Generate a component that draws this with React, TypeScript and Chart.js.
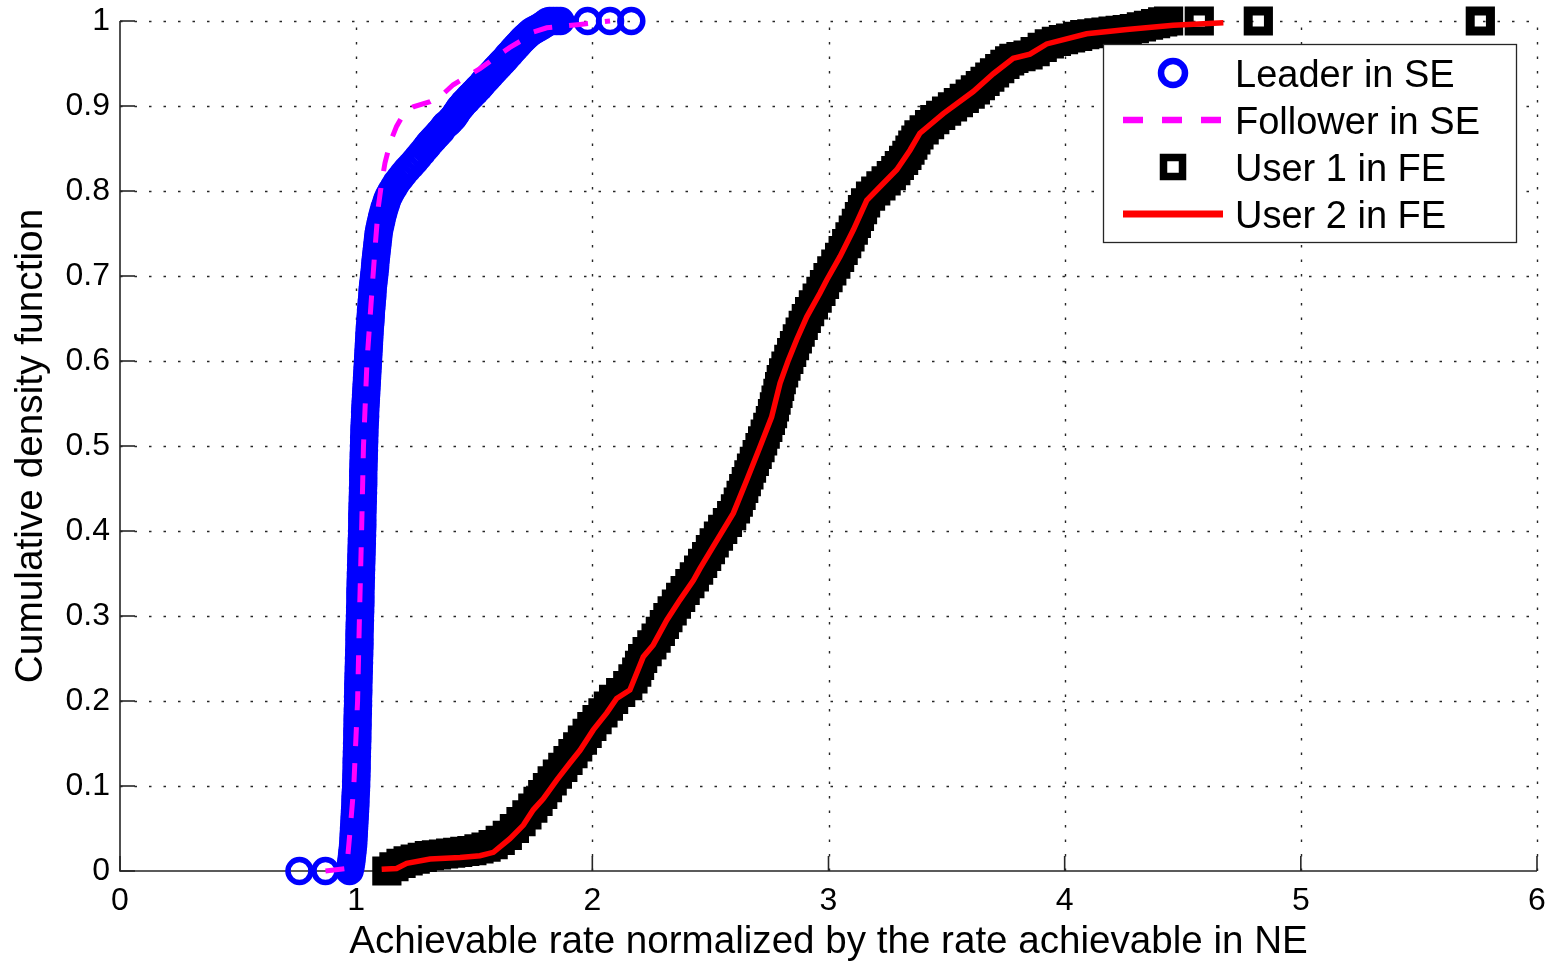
import React, { useEffect, useRef } from 'react';
import { Chart, registerables } from 'chart.js';

Chart.register(...registerables);

const FONT = "'Liberation Sans', Arial, Helvetica, sans-serif";

const xTickValues = [0, 1, 2, 3, 4, 5, 6];
const xTickLabels = ['0', '1', '2', '3', '4', '5', '6'];
const yTickValues = [0, 0.1, 0.2, 0.3, 0.4, 0.5, 0.6, 0.7, 0.8, 0.9, 1];
const yTickLabels = ['0', '0.1', '0.2', '0.3', '0.4', '0.5', '0.6', '0.7', '0.8', '0.9', '1'];

const seriesLabels = ['Leader in SE', 'Follower in SE', 'User 1 in FE', 'User 2 in FE'];
const xTitle = 'Achievable rate normalized by the rate achievable in NE';
const yTitle = 'Cumulative density function';

const leaderX = [
  0.76, 0.87,
  0.972, 0.976, 0.979, 0.981, 0.983, 0.985, 0.987, 0.988, 0.989, 0.99, 0.991, 0.992, 0.993, 0.994, 0.995, 0.996, 0.997, 0.997, 0.998, 0.999,
  1.0, 1.0, 1.001, 1.001, 1.002, 1.002, 1.002, 1.003, 1.003, 1.004, 1.004, 1.005, 1.005, 1.005, 1.006, 1.006, 1.006, 1.007, 1.007, 1.008,
  1.008, 1.008, 1.009, 1.009, 1.009, 1.01, 1.01, 1.011, 1.011, 1.012, 1.012, 1.013, 1.013, 1.014, 1.014, 1.014, 1.014, 1.015, 1.015, 1.016,
  1.016, 1.017, 1.017, 1.018, 1.018, 1.018, 1.018, 1.019, 1.019, 1.02, 1.02, 1.021, 1.021, 1.022, 1.022, 1.023, 1.023, 1.024, 1.024, 1.025,
  1.025, 1.026, 1.026, 1.026, 1.026, 1.027, 1.027, 1.028, 1.028, 1.029, 1.029, 1.03, 1.03, 1.03, 1.03, 1.031, 1.031, 1.032, 1.032, 1.033,
  1.033, 1.034, 1.034, 1.035, 1.035, 1.036, 1.037, 1.038, 1.038, 1.039, 1.04, 1.041, 1.042, 1.043, 1.044, 1.045, 1.046, 1.047, 1.048, 1.049,
  1.05, 1.051, 1.052, 1.053, 1.054, 1.055, 1.056, 1.057, 1.058, 1.06, 1.061, 1.062, 1.063, 1.065, 1.066, 1.068, 1.069, 1.07, 1.072, 1.074,
  1.076, 1.078, 1.08, 1.081, 1.083, 1.085, 1.087, 1.089, 1.091, 1.093, 1.095,
  1.098, 1.102, 1.106, 1.11, 1.115, 1.12, 1.126, 1.132, 1.14, 1.15, 1.161, 1.172, 1.186, 1.2, 1.215, 1.232, 1.248, 1.263, 1.278, 1.293,
  1.302, 1.31, 1.32, 1.33, 1.34, 1.35, 1.36, 1.37, 1.38, 1.39, 1.4, 1.41, 1.418, 1.425, 1.432, 1.44, 1.447, 1.455, 1.462, 1.47,
  1.478, 1.487, 1.496, 1.505, 1.513, 1.522, 1.531, 1.54, 1.55, 1.56, 1.57, 1.58, 1.59, 1.6, 1.61, 1.62, 1.631, 1.642, 1.653, 1.665,
  1.675, 1.685, 1.695, 1.705, 1.716, 1.728, 1.74, 1.752, 1.765, 1.778, 1.79, 1.8, 1.81, 1.82, 1.835, 1.85, 1.865,
  1.98, 2.075, 2.165,
];
const leaderY = [
  0, 0,
  0, 0.005, 0.01, 0.015, 0.02, 0.025, 0.03, 0.035, 0.04, 0.045, 0.05, 0.055, 0.06, 0.065, 0.07, 0.075, 0.08, 0.085, 0.09, 0.095,
  0.1, 0.105, 0.11, 0.115, 0.12, 0.125, 0.13, 0.135, 0.14, 0.145, 0.15, 0.155, 0.16, 0.165, 0.17, 0.175, 0.18, 0.185, 0.19, 0.195,
  0.2, 0.205, 0.21, 0.215, 0.22, 0.225, 0.23, 0.235, 0.24, 0.245, 0.25, 0.255, 0.26, 0.265, 0.27, 0.275, 0.28, 0.285, 0.29, 0.295,
  0.3, 0.305, 0.31, 0.315, 0.32, 0.325, 0.33, 0.335, 0.34, 0.345, 0.35, 0.355, 0.36, 0.365, 0.37, 0.375, 0.38, 0.385, 0.39, 0.395,
  0.4, 0.405, 0.41, 0.415, 0.42, 0.425, 0.43, 0.435, 0.44, 0.445, 0.45, 0.455, 0.46, 0.465, 0.47, 0.475, 0.48, 0.485, 0.49, 0.495,
  0.5, 0.505, 0.51, 0.515, 0.52, 0.525, 0.53, 0.535, 0.54, 0.545, 0.55, 0.555, 0.56, 0.565, 0.57, 0.575, 0.58, 0.585, 0.59, 0.595,
  0.6, 0.605, 0.61, 0.615, 0.62, 0.625, 0.63, 0.635, 0.64, 0.645, 0.65, 0.655, 0.66, 0.665, 0.67, 0.675, 0.68, 0.685, 0.69, 0.695,
  0.7, 0.705, 0.71, 0.715, 0.72, 0.725, 0.73, 0.735, 0.74, 0.745, 0.75,
  0.755, 0.76, 0.765, 0.77, 0.775, 0.78, 0.785, 0.79, 0.795, 0.8, 0.805, 0.81, 0.815, 0.82, 0.825, 0.83, 0.835, 0.84, 0.845, 0.85,
  0.853, 0.856, 0.859, 0.862, 0.865, 0.868, 0.871, 0.875, 0.878, 0.88, 0.883, 0.886, 0.889, 0.892, 0.895, 0.898, 0.9, 0.903, 0.905, 0.907,
  0.91, 0.912, 0.915, 0.917, 0.92, 0.922, 0.925, 0.928, 0.931, 0.934, 0.937, 0.94, 0.943, 0.946, 0.949, 0.952, 0.955, 0.959, 0.962, 0.966,
  0.969, 0.972, 0.975, 0.978, 0.981, 0.984, 0.987, 0.989, 0.991, 0.993, 0.995, 0.997, 0.999, 1, 1, 1, 1,
  1, 1, 1,
];

// Follower in SE (magenta dashed)
const followerX = [
  0.87, 0.96, 0.975, 0.99, 1.006, 1.014, 1.023, 1.031, 1.046, 1.07, 1.082, 1.094, 1.108, 1.122,
  1.145, 1.171, 1.2, 1.242, 1.313, 1.36, 1.411, 1.47, 1.524, 1.59, 1.651, 1.694, 1.75, 1.807,
  1.948, 2.075,
];
const followerY = [
  0, 0.003, 0.05, 0.1, 0.2, 0.3, 0.4, 0.5, 0.6, 0.695, 0.74, 0.782, 0.81, 0.833,
  0.858, 0.876, 0.89, 0.899, 0.905, 0.912, 0.925, 0.935, 0.944, 0.957, 0.969, 0.976, 0.987, 0.992,
  0.996, 1,
];

// User 1 in FE (black squares)
const user1X = [
  1.13, 1.16, 1.19, 1.22, 1.25, 1.28, 1.31, 1.34, 1.37, 1.4, 1.43, 1.46, 1.49, 1.52, 1.55, 1.58, 1.61,
  1.64, 1.67, 1.698, 1.723, 1.748, 1.77, 1.79, 1.81, 1.83, 1.852, 1.875, 1.897, 1.918, 1.938, 1.958, 1.978,
  1.998, 2.02, 2.045, 2.068, 2.09, 2.12, 2.15, 2.172, 2.188, 2.2, 2.213, 2.232, 2.252, 2.27, 2.288, 2.305,
  2.32, 2.338, 2.356, 2.374, 2.393, 2.413, 2.432, 2.45, 2.467, 2.484, 2.5, 2.516, 2.534, 2.552, 2.572, 2.59,
  2.606, 2.618, 2.63, 2.641, 2.652, 2.663, 2.674, 2.686, 2.698, 2.71, 2.721, 2.732, 2.743, 2.754, 2.763, 2.771,
  2.778, 2.786, 2.793, 2.8, 2.81, 2.82, 2.832, 2.844, 2.856, 2.868, 2.88, 2.893, 2.906, 2.92, 2.936, 2.952,
  2.968, 2.983, 2.998, 3.014, 3.031, 3.047, 3.062, 3.077, 3.091, 3.105, 3.118, 3.131, 3.144, 3.157, 3.178, 3.2,
  3.222, 3.244, 3.266, 3.285, 3.3, 3.318, 3.332, 3.345, 3.357, 3.37, 3.383, 3.405, 3.428, 3.45, 3.475, 3.5,
  3.525, 3.55, 3.575, 3.6, 3.622, 3.643, 3.663, 3.683, 3.703, 3.725, 3.747, 3.767, 3.785,
  3.815, 3.845, 3.875, 3.905, 3.935, 3.965, 3.995, 4.025, 4.055, 4.085, 4.115, 4.145, 4.175, 4.205, 4.235, 4.265,
  4.295, 4.325, 4.355, 4.385, 4.415, 4.44, 4.57, 4.82, 5.76,
];
const user1Y = [
  0, 0.005, 0.009, 0.012, 0.014, 0.016, 0.018, 0.019, 0.02, 0.021, 0.022, 0.023, 0.024, 0.026, 0.028, 0.031, 0.036,
  0.042, 0.05, 0.058, 0.066, 0.074, 0.082, 0.09, 0.098, 0.106, 0.114, 0.122, 0.13, 0.138, 0.146, 0.154, 0.162,
  0.17, 0.178, 0.186, 0.194, 0.202, 0.21, 0.218, 0.226, 0.234, 0.242, 0.25, 0.258, 0.266, 0.274, 0.282, 0.29,
  0.298, 0.306, 0.314, 0.322, 0.33, 0.338, 0.346, 0.354, 0.362, 0.37, 0.378, 0.386, 0.394, 0.402, 0.41, 0.418,
  0.426, 0.434, 0.442, 0.45, 0.458, 0.466, 0.474, 0.482, 0.49, 0.498, 0.506, 0.514, 0.522, 0.53, 0.538, 0.546,
  0.554, 0.562, 0.57, 0.578, 0.586, 0.594, 0.602, 0.61, 0.618, 0.626, 0.634, 0.642, 0.65, 0.658, 0.666, 0.674,
  0.682, 0.69, 0.698, 0.706, 0.714, 0.722, 0.73, 0.738, 0.746, 0.754, 0.762, 0.77, 0.778, 0.786, 0.794, 0.8,
  0.806, 0.812, 0.818, 0.824, 0.83, 0.836, 0.842, 0.848, 0.854, 0.86, 0.866, 0.872, 0.878, 0.884, 0.889, 0.894,
  0.899, 0.904, 0.909, 0.914, 0.919, 0.924, 0.929, 0.934, 0.939, 0.944, 0.949, 0.953, 0.956,
  0.958, 0.96, 0.964, 0.969, 0.973, 0.976, 0.978, 0.98, 0.982, 0.984, 0.985, 0.986, 0.987, 0.988, 0.989, 0.99,
  0.991, 0.993, 0.995, 0.997, 0.999, 1, 1, 1, 1,
];

// User 2 in FE (red solid)
const user2X = [
  1.108, 1.171, 1.214, 1.313, 1.44, 1.524, 1.581, 1.651, 1.708, 1.75, 1.792, 1.849, 1.905, 1.948,
  2.004, 2.061, 2.103, 2.159, 2.216, 2.258, 2.315, 2.371, 2.428, 2.456, 2.512, 2.597, 2.654, 2.71,
  2.759, 2.795, 2.83, 2.865, 2.908, 2.964, 2.992, 3.049, 3.105, 3.162, 3.218, 3.289, 3.345, 3.387,
  3.486, 3.613, 3.698, 3.782, 3.853, 3.924, 4.008, 4.093, 4.263, 4.46, 4.672,
];
const user2Y = [
  0.002, 0.003, 0.009, 0.014, 0.016, 0.018, 0.022, 0.038, 0.054, 0.072, 0.085, 0.107, 0.127, 0.142,
  0.166, 0.186, 0.203, 0.213, 0.252, 0.266, 0.295, 0.319, 0.342, 0.356, 0.382, 0.421, 0.46, 0.499,
  0.534, 0.574, 0.601, 0.625, 0.652, 0.68, 0.695, 0.723, 0.754, 0.789, 0.805, 0.825, 0.848, 0.868,
  0.891, 0.917, 0.938, 0.956, 0.961, 0.973, 0.979, 0.985, 0.99, 0.995, 0.998,
];

const toPoints = (xs: number[], ys: number[]) => xs.map((x, i) => ({ x, y: ys[i] }));

const zeroPadding = (s: any) => {
  s.paddingLeft = 0;
  s.paddingRight = 0;
  s.paddingTop = 0;
  s.paddingBottom = 0;
};

const axesPlugin = {
  id: 'matlabAxes',
  beforeDatasetsDraw(chart: any) {
    const { ctx, chartArea } = chart;
    const { left, right, top, bottom } = chartArea;
    const xs = chart.scales.x;
    const ys = chart.scales.y;
    ctx.save();
    ctx.strokeStyle = '#262626';
    ctx.lineWidth = 1.4;
    ctx.setLineDash([2.5, 12]);
    xTickValues.forEach((v) => {
      if (v === xTickValues[0]) return;
      const px = Math.round(xs.getPixelForValue(v)) + 0.5;
      ctx.beginPath();
      ctx.moveTo(px, bottom);
      ctx.lineTo(px, top);
      ctx.stroke();
    });
    yTickValues.forEach((v) => {
      if (v === yTickValues[0]) return;
      const py = Math.round(ys.getPixelForValue(v)) + 0.5;
      ctx.beginPath();
      ctx.moveTo(left, py);
      ctx.lineTo(right, py);
      ctx.stroke();
    });
    ctx.setLineDash([]);
    ctx.strokeStyle = '#262626';
    ctx.lineWidth = 1.6;
    ctx.beginPath();
    ctx.moveTo(left, top);
    ctx.lineTo(left, bottom);
    ctx.lineTo(right, bottom);
    ctx.stroke();
    const tl = 15;
    xTickValues.forEach((v) => {
      const px = xs.getPixelForValue(v);
      ctx.beginPath();
      ctx.moveTo(px, bottom);
      ctx.lineTo(px, bottom - tl);
      ctx.stroke();
    });
    yTickValues.forEach((v) => {
      const py = ys.getPixelForValue(v);
      ctx.beginPath();
      ctx.moveTo(left, py);
      ctx.lineTo(left + tl, py);
      ctx.stroke();
    });
    ctx.restore();
  },
};

const legendPlugin = {
  id: 'matlabLegend',
  afterDatasetsDraw(chart: any) {
    const { ctx, chartArea } = chart;
    const w = 413;
    const h = 198;
    const bx = chartArea.right - 21 - w;
    const by = chartArea.top + 23;
    ctx.save();
    ctx.fillStyle = '#ffffff';
    ctx.fillRect(bx, by, w, h);
    ctx.strokeStyle = '#262626';
    ctx.lineWidth = 1.3;
    ctx.strokeRect(bx + 0.5, by + 0.5, w, h);
    const rows = [29, 76, 123, 170];
    const sx0 = bx + 20;
    const sx1 = bx + 120;
    const cx = bx + 70;
    chart.data.datasets.forEach((ds: any, i: number) => {
      const cy = by + rows[i];
      if (i === 0) {
        ctx.beginPath();
        ctx.arc(cx, cy, 12, 0, Math.PI * 2);
        ctx.strokeStyle = ds.pointBorderColor;
        ctx.lineWidth = 6.5;
        ctx.stroke();
      } else if (i === 1) {
        ctx.beginPath();
        ctx.setLineDash([20, 19]);
        ctx.moveTo(sx0, cy);
        ctx.lineTo(sx1, cy);
        ctx.strokeStyle = ds.borderColor;
        ctx.lineWidth = 6.5;
        ctx.stroke();
        ctx.setLineDash([]);
      } else if (i === 2) {
        ctx.strokeStyle = ds.pointBorderColor;
        ctx.lineWidth = 7.5;
        ctx.strokeRect(cx - 9.5, cy - 9.5, 19, 19);
      } else {
        ctx.beginPath();
        ctx.moveTo(sx0, cy);
        ctx.lineTo(sx1, cy);
        ctx.strokeStyle = ds.borderColor;
        ctx.lineWidth = 7;
        ctx.stroke();
      }
      ctx.fillStyle = '#000';
      ctx.font = `38px ${FONT}`;
      ctx.textBaseline = 'alphabetic';
      ctx.textAlign = 'left';
      ctx.fillText(ds.label, bx + 132, cy + 13.5);
    });
    ctx.restore();
  },
};

export default function App() {
  const ref = useRef<HTMLCanvasElement>(null);
  useEffect(() => {
    if (!ref.current) return;
    const chart = new Chart(ref.current, {
      type: 'scatter',
      data: {
        datasets: [
          {
            label: seriesLabels[0],
            data: toPoints(leaderX, leaderY),
            showLine: false,
            pointStyle: 'circle',
            pointRadius: 11.5,
            pointHoverRadius: 11.5,
            pointBorderWidth: 5.5,
            pointBorderColor: '#0000ff',
            pointBackgroundColor: 'rgba(0,0,0,0)',
            borderColor: '#0000ff',
            order: 4,
            clip: false,
          },
          {
            label: seriesLabels[1],
            data: toPoints(followerX, followerY),
            showLine: true,
            borderColor: '#ff00ff',
            borderWidth: 5,
            borderDash: [19, 17],
            pointRadius: 0,
            pointHoverRadius: 0,
            tension: 0,
            order: 3,
            clip: false,
          },
          {
            label: seriesLabels[2],
            data: toPoints(user1X, user1Y),
            showLine: false,
            pointStyle: 'rect',
            pointRadius: 14.3,
            pointHoverRadius: 14.3,
            pointBorderWidth: 9,
            pointBorderColor: '#000000',
            pointBackgroundColor: 'rgba(0,0,0,0)',
            borderColor: '#000000',
            order: 2,
            clip: false,
          },
          {
            label: seriesLabels[3],
            data: toPoints(user2X, user2Y),
            showLine: true,
            borderColor: '#ff0000',
            borderWidth: 5.5,
            pointRadius: 0,
            pointHoverRadius: 0,
            tension: 0,
            order: 1,
            clip: false,
          },
        ] as any,
      },
      options: {
        responsive: false,
        animation: false,
        events: [],
        layout: { autoPadding: false, padding: { left: 0, right: 14, top: 21, bottom: 0 } },
        plugins: {
          legend: { display: false },
          tooltip: { enabled: false },
        },
        scales: {
          x: {
            type: 'linear',
            min: 0,
            max: 6,
            afterBuildTicks: (s: any) => {
              s.ticks = xTickValues.map((v) => ({ value: v }));
            },
            afterFit: (s: any) => {
              s.height = 91;
              zeroPadding(s);
            },
            grid: { display: false, drawTicks: false },
            border: { display: false },
            ticks: {
              autoSkip: false,
              maxRotation: 0,
              padding: 11,
              color: '#000',
              font: { family: FONT, size: 32 },
              callback: (_v: any, i: number) => xTickLabels[i],
            },
            title: {
              display: true,
              text: xTitle,
              color: '#000',
              font: { family: FONT, size: 38.6, lineHeight: 1 },
              padding: { top: 0, bottom: 0 },
            },
          },
          y: {
            type: 'linear',
            min: 0,
            max: 1,
            afterBuildTicks: (s: any) => {
              s.ticks = yTickValues.map((v) => ({ value: v }));
            },
            afterFit: (s: any) => {
              s.width = 120;
              zeroPadding(s);
            },
            grid: { display: false, drawTicks: false },
            border: { display: false },
            ticks: {
              autoSkip: false,
              padding: 10,
              color: '#000',
              font: { family: FONT, size: 32 },
              callback: (_v: any, i: number) => yTickLabels[i],
            },
            title: {
              display: true,
              text: yTitle,
              color: '#000',
              font: { family: FONT, size: 38.8, lineHeight: 1 },
              padding: { top: 12, bottom: 0 },
            },
          },
        },
      } as any,
      plugins: [axesPlugin, legendPlugin],
    });
    return () => chart.destroy();
  }, []);

  return (
    <div style={{ position: 'fixed', left: 0, top: 0, width: 1551, height: 962, background: '#ffffff' }}>
      <canvas ref={ref} width={1551} height={962} style={{ width: 1551, height: 962, display: 'block' }} />
    </div>
  );
}
